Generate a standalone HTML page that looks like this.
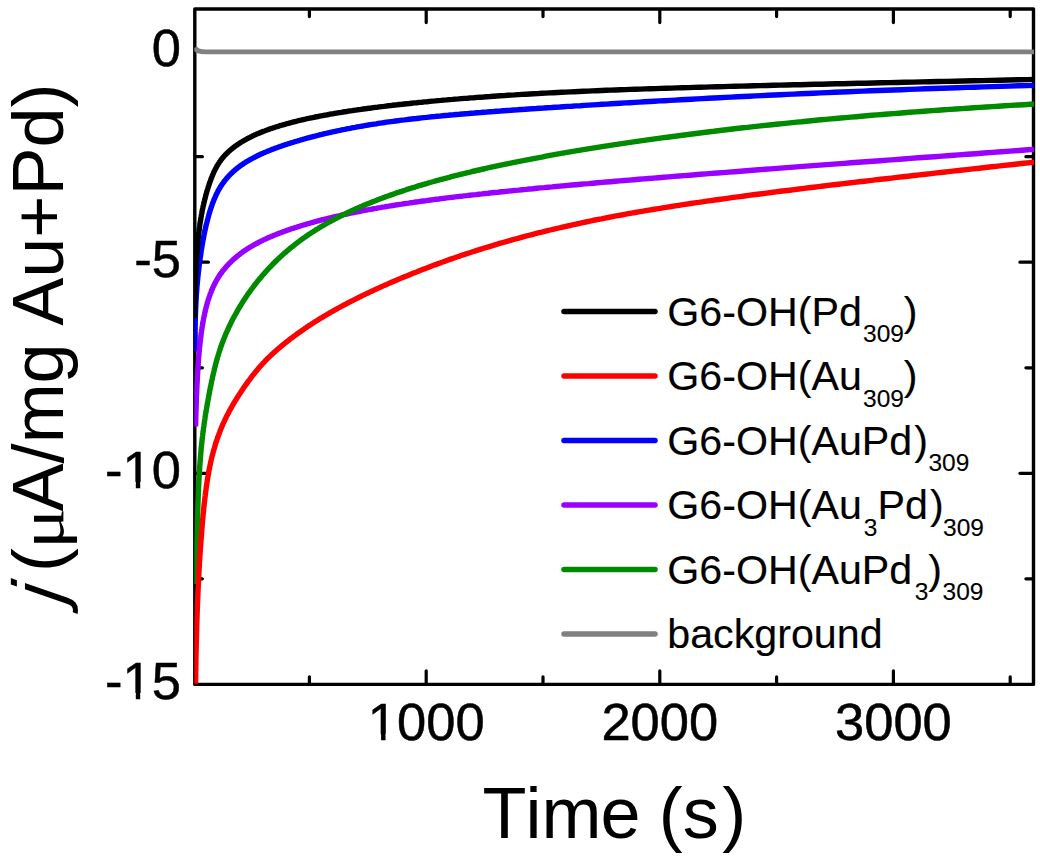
<!DOCTYPE html>
<html><head><meta charset="utf-8"><title>Chronoamperometry</title>
<style>html,body{margin:0;padding:0;background:#fff}body{width:1040px;height:858px;overflow:hidden}</style></head>
<body>
<svg width="1040" height="858" viewBox="0 0 1040 858" style="display:block">
<rect width="1040" height="858" fill="#fff"/>
<rect x="194.8" y="9.0" width="838.7" height="675.4" fill="none" stroke="#000" stroke-width="3.4" stroke-linejoin="round"/>
<path d="M309.4,684.0 v-7.199999999999999 M309.4,9.4 v7.199999999999999 M426.2,684.0 v-13.2 M426.2,9.4 v13.2 M543.0,684.0 v-7.199999999999999 M543.0,9.4 v7.199999999999999 M659.8,684.0 v-13.2 M659.8,9.4 v13.2 M776.6,684.0 v-7.199999999999999 M776.6,9.4 v7.199999999999999 M893.4,684.0 v-13.2 M893.4,9.4 v13.2 M1010.2,684.0 v-7.199999999999999 M1010.2,9.4 v7.199999999999999 M195.20000000000002,156.7 h7.199999999999999 M1033.1,156.7 h-7.199999999999999 M195.20000000000002,262.2 h13.2 M1033.1,262.2 h-13.2 M195.20000000000002,367.8 h7.199999999999999 M1033.1,367.8 h-7.199999999999999 M195.20000000000002,473.3 h13.2 M1033.1,473.3 h-13.2 M195.20000000000002,578.8 h7.199999999999999 M1033.1,578.8 h-7.199999999999999" fill="none" stroke="#000" stroke-width="3.2" stroke-linecap="round"/>
<defs><clipPath id="plotclip"><rect x="194.3" y="9.0" width="839.7" height="676.2"/></clipPath></defs>
<g clip-path="url(#plotclip)">
<path d="M195.3,351.5 L195.3,350.7 L195.3,350.0 L195.2,349.2 L195.2,348.5 L195.2,347.7 L195.2,347.0 L195.2,346.2 L195.2,345.4 L195.2,344.7 L195.1,344.0 L195.1,343.2 L195.1,342.4 L195.1,341.7 L195.1,340.9 L195.1,340.2 L195.1,339.4 L195.1,338.6 L195.1,337.9 L195.1,337.1 L195.1,336.4 L195.1,335.6 L195.1,334.9 L195.1,334.1 L195.1,333.3 L195.1,332.6 L195.1,331.8 L195.1,331.1 L195.1,330.3 L195.1,329.6 L195.1,328.8 L195.1,328.1 L195.1,327.3 L195.1,326.6 L195.2,325.8 L195.2,325.0 L195.2,324.3 L195.2,323.5 L195.2,322.8 L195.2,322.0 L195.2,321.2 L195.3,320.5 L195.3,319.7 L195.3,319.0 L195.3,318.2 L195.3,317.5 L195.4,316.7 L195.4,316.0 L195.4,315.2 L195.4,314.5 L195.5,313.7 L195.5,312.9 L195.5,312.2 L195.5,311.4 L195.6,310.7 L195.6,309.9 L195.6,309.2 L195.7,308.4 L195.7,307.6 L195.7,306.9 L195.8,306.1 L195.8,305.4 L195.8,304.6 L195.9,303.8 L195.9,303.1 L195.9,302.4 L196.0,301.6 L196.0,300.9 L196.1,300.1 L196.1,299.3 L196.2,298.6 L196.2,297.8 L196.2,297.1 L196.3,296.3 L196.3,295.5 L196.4,294.8 L196.4,294.0 L196.5,293.3 L196.5,292.5 L196.6,291.8 L196.7,291.0 L196.7,290.2 L196.8,289.5 L196.8,288.7 L196.9,288.0 L196.9,287.2 L197.0,286.5 L197.1,285.7 L197.1,285.0 L197.2,284.2 L197.3,283.5 L197.3,282.7 L197.4,281.9 L197.5,281.2 L197.5,280.4 L197.6,279.7 L197.7,278.9 L197.8,278.1 L197.8,277.4 L197.9,276.6 L198.0,275.9 L198.1,275.1 L198.2,274.4 L198.2,273.6 L198.3,272.9 L198.4,272.1 L198.5,271.4 L198.6,270.6 L198.7,269.8 L198.8,269.1 L198.8,268.3 L198.9,267.6 L199.0,266.8 L199.1,266.1 L199.2,265.3 L199.3,264.5 L199.4,263.8 L199.5,263.0 L199.6,262.3 L199.7,261.5 L199.8,260.7 L199.9,260.0 L200.0,259.3 L200.1,258.5 L200.2,257.7 L200.3,257.0 L200.4,256.2 L200.6,255.5 L200.7,254.7 L200.8,254.0 L200.9,253.2 L201.0,252.4 L201.1,251.7 L201.2,250.9 L201.3,250.2 L201.5,249.4 L201.6,248.7 L201.7,247.9 L201.8,247.1 L202.0,246.4 L202.1,245.7 L202.2,244.9 L202.3,244.1 L202.5,243.4 L202.6,242.6 L202.7,241.9 L202.9,241.1 L203.0,240.3 L203.1,239.6 L203.3,238.8 L203.4,238.1 L203.6,237.3 L203.7,236.6 L203.9,235.8 L204.0,235.0 L204.2,234.3 L204.3,233.5 L204.5,232.8 L204.6,232.0 L204.8,231.3 L204.9,230.5 L205.1,229.8 L205.3,229.0 L205.4,228.3 L205.6,227.5 L205.8,226.7 L206.0,226.0 L206.1,225.2 L206.3,224.5 L206.5,223.7 L206.7,222.9 L206.9,222.2 L207.1,221.4 L207.3,220.7 L207.5,219.9 L207.7,219.2 L207.9,218.4 L208.1,217.7 L208.3,216.9 L208.5,216.2 L208.7,215.4 L208.9,214.6 L209.1,213.9 L209.3,213.1 L209.6,212.4 L209.8,211.6 L210.0,210.9 L210.3,210.1 L210.5,209.3 L210.8,208.6 L211.0,207.8 L211.3,207.1 L211.5,206.3 L211.8,205.5 L212.1,204.8 L212.3,204.1 L212.6,203.3 L212.9,202.5 L213.2,201.8 L213.5,201.0 L213.8,200.1 L214.2,199.2 L214.6,198.4 L214.9,197.6 L215.3,196.8 L215.6,196.0 L216.0,195.2 L216.3,194.4 L216.7,193.7 L217.0,193.0 L217.4,192.3 L217.7,191.6 L218.1,190.9 L218.5,190.3 L218.8,189.6 L219.2,189.0 L219.5,188.4 L219.9,187.8 L220.2,187.2 L220.6,186.6 L220.9,186.1 L221.3,185.5 L221.6,185.0 L222.0,184.5 L222.3,183.9 L222.7,183.4 L223.1,182.9 L223.4,182.4 L223.8,182.0 L224.1,181.5 L224.5,181.0 L224.8,180.6 L225.2,180.1 L225.5,179.7 L225.9,179.3 L226.2,178.8 L226.6,178.4 L227.0,178.0 L227.3,177.6 L227.7,177.2 L228.0,176.8 L228.4,176.4 L228.7,176.0 L229.1,175.7 L229.4,175.3 L229.8,174.9 L230.1,174.6 L230.5,174.2 L230.9,173.8 L231.2,173.5 L231.6,173.2 L231.9,172.8 L232.3,172.5 L232.6,172.2 L233.0,171.8 L233.3,171.5 L233.7,171.2 L234.0,170.9 L234.4,170.6 L234.8,170.2 L235.1,169.9 L235.5,169.6 L235.8,169.3 L236.2,169.0 L236.5,168.8 L236.9,168.5 L237.2,168.2 L237.6,167.9 L237.9,167.6 L238.3,167.4 L238.6,167.1 L239.0,166.8 L239.4,166.5 L239.7,166.3 L240.1,166.0 L240.4,165.8 L240.8,165.5 L241.1,165.3 L241.5,165.0 L242.0,164.6 L242.6,164.3 L243.1,163.9 L243.7,163.5 L244.3,163.1 L244.8,162.8 L245.4,162.4 L246.0,162.0 L246.6,161.7 L247.2,161.3 L247.8,160.9 L248.4,160.6 L249.1,160.2 L249.7,159.8 L250.3,159.5 L251.0,159.1 L251.6,158.8 L252.3,158.4 L252.9,158.1 L253.6,157.7 L254.3,157.4 L255.0,157.0 L255.7,156.7 L256.4,156.3 L257.1,156.0 L257.8,155.6 L258.5,155.3 L259.2,154.9 L260.0,154.6 L260.7,154.2 L261.5,153.9 L262.3,153.5 L263.0,153.2 L263.8,152.8 L264.6,152.5 L265.4,152.2 L266.2,151.8 L267.0,151.5 L267.9,151.1 L268.7,150.8 L269.5,150.5 L270.4,150.1 L271.3,149.8 L272.1,149.4 L273.0,149.1 L273.9,148.8 L274.8,148.4 L275.7,148.1 L276.6,147.8 L277.6,147.4 L278.5,147.1 L279.5,146.7 L280.4,146.4 L281.4,146.1 L282.4,145.7 L283.4,145.4 L284.4,145.0 L285.4,144.7 L286.4,144.4 L287.5,144.0 L288.5,143.7 L289.6,143.4 L290.7,143.0 L291.8,142.7 L292.9,142.3 L294.0,142.0 L295.1,141.6 L296.2,141.3 L297.4,141.0 L298.5,140.6 L299.7,140.3 L300.9,139.9 L302.1,139.6 L303.3,139.2 L304.5,138.9 L305.8,138.5 L307.0,138.2 L308.3,137.8 L309.6,137.5 L310.9,137.2 L312.2,136.8 L313.5,136.5 L314.9,136.1 L316.2,135.8 L317.6,135.4 L319.0,135.1 L320.4,134.7 L321.8,134.4 L323.2,134.0 L324.6,133.7 L326.1,133.4 L327.6,133.0 L329.1,132.7 L330.6,132.3 L332.1,132.0 L333.7,131.6 L335.2,131.3 L336.8,131.0 L338.4,130.6 L340.0,130.3 L341.6,129.9 L343.3,129.6 L345.0,129.3 L346.6,128.9 L348.3,128.6 L350.1,128.3 L351.8,127.9 L353.6,127.6 L355.3,127.3 L357.1,126.9 L359.0,126.6 L360.8,126.3 L362.7,126.0 L364.5,125.7 L366.4,125.3 L368.4,125.0 L370.3,124.7 L372.3,124.4 L374.3,124.1 L376.3,123.8 L378.3,123.4 L380.3,123.1 L382.4,122.8 L384.5,122.5 L386.6,122.2 L388.8,121.9 L391.0,121.6 L393.1,121.3 L395.4,121.0 L397.6,120.7 L399.9,120.4 L402.2,120.1 L404.5,119.9 L406.8,119.6 L409.2,119.3 L411.6,119.0 L414.0,118.7 L416.4,118.5 L418.9,118.2 L421.4,117.9 L423.9,117.6 L426.5,117.4 L429.1,117.1 L431.7,116.8 L434.3,116.6 L437.0,116.3 L439.7,116.1 L442.4,115.8 L445.2,115.5 L448.0,115.3 L450.8,115.0 L453.6,114.8 L456.5,114.5 L459.4,114.3 L462.4,114.0 L465.4,113.7 L468.4,113.5 L471.4,113.2 L474.5,113.0 L477.6,112.7 L480.8,112.5 L483.9,112.2 L487.2,112.0 L490.4,111.7 L493.7,111.5 L497.0,111.2 L500.4,111.0 L503.8,110.7 L507.2,110.5 L510.7,110.3 L514.2,110.0 L517.7,109.8 L521.3,109.5 L525.0,109.3 L528.6,109.0 L532.3,108.7 L536.1,108.5 L539.9,108.2 L543.7,108.0 L547.6,107.7 L551.5,107.5 L555.5,107.2 L559.5,107.0 L563.5,106.7 L567.6,106.4 L571.8,106.2 L575.9,105.9 L580.2,105.7 L584.4,105.4 L588.8,105.1 L593.1,104.9 L597.6,104.6 L602.0,104.3 L606.5,104.1 L611.1,103.8 L615.7,103.5 L620.4,103.2 L625.1,102.9 L629.9,102.7 L634.7,102.4 L639.6,102.1 L644.5,101.8 L649.5,101.5 L654.5,101.2 L659.6,100.9 L664.8,100.7 L670.0,100.4 L675.3,100.1 L680.6,99.8 L686.0,99.5 L691.4,99.2 L696.9,98.9 L702.5,98.6 L708.1,98.3 L713.8,98.0 L719.5,97.7 L725.3,97.4 L731.2,97.1 L737.2,96.8 L743.2,96.5 L749.2,96.2 L755.4,95.9 L761.6,95.6 L767.9,95.3 L774.2,95.0 L780.6,94.7 L787.1,94.4 L793.7,94.1 L800.3,93.8 L807.0,93.5 L813.8,93.2 L820.6,92.9 L827.5,92.6 L834.5,92.3 L841.6,92.0 L848.8,91.7 L856.0,91.4 L863.3,91.1 L870.7,90.8 L878.2,90.5 L885.8,90.3 L893.4,90.0 L901.1,89.7 L908.9,89.4 L916.8,89.1 L924.8,88.8 L932.9,88.5 L941.1,88.3 L949.3,88.0 L957.7,87.7 L966.1,87.4 L974.6,87.2 L983.2,86.9 L992.0,86.6 L1000.8,86.4 L1009.7,86.1 L1018.7,85.8 L1027.8,85.6 L1037.0,85.3" fill="none" stroke="#0000ff" stroke-width="5.4" stroke-linejoin="round" stroke-linecap="butt"/>
<path d="M194.7,318.0 L194.7,317.3 L194.7,316.6 L194.7,315.9 L194.7,315.2 L194.7,314.5 L194.7,313.8 L194.7,313.1 L194.7,312.4 L194.7,311.6 L194.7,311.0 L194.8,310.2 L194.8,309.5 L194.8,308.8 L194.8,308.1 L194.8,307.4 L194.8,306.7 L194.8,306.0 L194.8,305.3 L194.8,304.6 L194.8,303.9 L194.9,303.2 L194.9,302.5 L194.9,301.8 L194.9,301.1 L194.9,300.4 L194.9,299.7 L194.9,299.0 L195.0,298.3 L195.0,297.5 L195.0,296.9 L195.0,296.1 L195.0,295.4 L195.0,294.7 L195.1,294.0 L195.1,293.3 L195.1,292.6 L195.1,291.9 L195.1,291.2 L195.1,290.5 L195.2,289.8 L195.2,289.1 L195.2,288.4 L195.2,287.7 L195.2,287.0 L195.3,286.3 L195.3,285.6 L195.3,284.9 L195.3,284.2 L195.4,283.4 L195.4,282.8 L195.4,282.0 L195.4,281.4 L195.5,280.6 L195.5,279.9 L195.5,279.2 L195.5,278.5 L195.6,277.8 L195.6,277.1 L195.6,276.4 L195.6,275.7 L195.7,275.0 L195.7,274.3 L195.7,273.6 L195.8,272.9 L195.8,272.2 L195.8,271.5 L195.9,270.8 L195.9,270.1 L195.9,269.4 L196.0,268.7 L196.0,267.9 L196.0,267.3 L196.1,266.5 L196.1,265.8 L196.1,265.1 L196.2,264.4 L196.2,263.7 L196.3,263.0 L196.3,262.3 L196.3,261.6 L196.4,260.9 L196.4,260.2 L196.5,259.5 L196.5,258.8 L196.6,258.1 L196.6,257.4 L196.7,256.7 L196.7,256.0 L196.7,255.3 L196.8,254.6 L196.8,253.8 L196.9,253.1 L196.9,252.4 L197.0,251.7 L197.1,251.0 L197.1,250.3 L197.2,249.6 L197.2,248.9 L197.3,248.2 L197.3,247.5 L197.4,246.8 L197.5,246.1 L197.5,245.4 L197.6,244.7 L197.6,244.0 L197.7,243.3 L197.8,242.6 L197.8,241.9 L197.9,241.2 L198.0,240.4 L198.0,239.8 L198.1,239.0 L198.2,238.3 L198.3,237.6 L198.3,236.9 L198.4,236.2 L198.5,235.5 L198.6,234.8 L198.6,234.1 L198.7,233.4 L198.8,232.7 L198.9,232.0 L199.0,231.3 L199.1,230.6 L199.2,229.9 L199.2,229.2 L199.3,228.5 L199.4,227.8 L199.5,227.1 L199.6,226.3 L199.7,225.7 L199.8,224.9 L199.9,224.2 L200.0,223.5 L200.1,222.8 L200.2,222.1 L200.4,221.4 L200.5,220.7 L200.6,220.0 L200.7,219.3 L200.8,218.6 L200.9,217.9 L201.0,217.2 L201.2,216.5 L201.3,215.8 L201.4,215.1 L201.5,214.4 L201.7,213.7 L201.8,213.0 L201.9,212.3 L202.1,211.6 L202.2,210.8 L202.3,210.2 L202.5,209.4 L202.6,208.7 L202.8,208.0 L202.9,207.3 L203.1,206.6 L203.2,205.9 L203.4,205.2 L203.6,204.5 L203.7,203.8 L203.9,203.1 L204.0,202.4 L204.2,201.7 L204.4,201.0 L204.5,200.3 L204.7,199.6 L204.9,198.9 L205.1,198.2 L205.3,197.5 L205.5,196.7 L205.6,196.1 L205.8,195.3 L206.0,194.6 L206.2,193.9 L206.4,193.2 L206.6,192.5 L206.8,191.8 L207.0,191.1 L207.2,190.4 L207.4,189.7 L207.7,189.0 L207.9,188.3 L208.1,187.6 L208.3,186.9 L208.5,186.2 L208.8,185.5 L209.0,184.8 L209.2,184.1 L209.5,183.3 L209.7,182.7 L210.0,181.9 L210.2,181.2 L210.5,180.5 L210.7,179.8 L211.0,179.1 L211.3,178.4 L211.5,177.7 L211.9,176.9 L212.2,176.1 L212.5,175.3 L212.8,174.5 L213.2,173.8 L213.5,173.0 L213.8,172.3 L214.1,171.6 L214.4,170.9 L214.8,170.3 L215.1,169.6 L215.4,169.0 L215.7,168.4 L216.1,167.8 L216.4,167.2 L216.7,166.6 L217.0,166.0 L217.3,165.5 L217.7,164.9 L218.0,164.4 L218.3,163.9 L218.6,163.4 L219.0,162.9 L219.3,162.4 L219.6,161.9 L219.9,161.4 L220.3,161.0 L220.6,160.5 L220.9,160.1 L221.2,159.7 L221.5,159.2 L221.9,158.8 L222.2,158.4 L222.5,158.0 L222.8,157.6 L223.2,157.3 L223.5,156.9 L223.8,156.5 L224.1,156.1 L224.4,155.8 L224.8,155.4 L225.1,155.1 L225.4,154.7 L225.7,154.4 L226.1,154.1 L226.4,153.8 L226.7,153.4 L227.0,153.1 L227.4,152.8 L227.7,152.5 L228.0,152.2 L228.3,151.9 L228.6,151.6 L229.0,151.3 L229.3,151.0 L229.6,150.7 L229.9,150.5 L230.3,150.2 L230.6,149.9 L230.9,149.6 L231.2,149.4 L231.6,149.1 L231.9,148.8 L232.2,148.6 L232.5,148.3 L232.8,148.1 L233.2,147.8 L233.5,147.6 L233.8,147.3 L234.1,147.1 L234.5,146.8 L234.8,146.6 L235.1,146.3 L235.4,146.1 L235.7,145.9 L236.1,145.6 L236.4,145.4 L236.7,145.2 L237.0,145.0 L237.6,144.6 L238.1,144.2 L238.6,143.9 L239.1,143.5 L239.7,143.2 L240.2,142.8 L240.8,142.5 L241.3,142.1 L241.9,141.8 L242.4,141.5 L243.0,141.1 L243.6,140.8 L244.2,140.4 L244.8,140.1 L245.4,139.8 L246.0,139.4 L246.6,139.1 L247.2,138.7 L247.8,138.4 L248.5,138.1 L249.1,137.7 L249.8,137.4 L250.4,137.1 L251.1,136.7 L251.8,136.4 L252.4,136.1 L253.1,135.8 L253.8,135.4 L254.5,135.1 L255.2,134.8 L256.0,134.5 L256.7,134.1 L257.4,133.8 L258.2,133.5 L258.9,133.2 L259.7,132.9 L260.5,132.5 L261.2,132.2 L262.0,131.9 L262.8,131.6 L263.6,131.3 L264.5,131.0 L265.3,130.7 L266.1,130.3 L267.0,130.0 L267.8,129.7 L268.7,129.4 L269.5,129.1 L270.4,128.8 L271.3,128.5 L272.2,128.2 L273.1,127.9 L274.1,127.6 L275.0,127.3 L275.9,127.0 L276.9,126.7 L277.9,126.4 L278.8,126.1 L279.8,125.7 L280.8,125.4 L281.8,125.2 L282.9,124.9 L283.9,124.6 L284.9,124.3 L286.0,124.0 L287.1,123.7 L288.2,123.4 L289.2,123.1 L290.4,122.8 L291.5,122.5 L292.6,122.2 L293.8,121.9 L294.9,121.6 L296.1,121.3 L297.3,121.0 L298.5,120.7 L299.7,120.4 L300.9,120.2 L302.1,119.9 L303.4,119.6 L304.7,119.3 L305.9,119.0 L307.2,118.7 L308.6,118.4 L309.9,118.2 L311.2,117.9 L312.6,117.6 L314.0,117.3 L315.3,117.0 L316.7,116.7 L318.2,116.5 L319.6,116.2 L321.1,115.9 L322.5,115.6 L324.0,115.3 L325.5,115.1 L327.0,114.8 L328.6,114.5 L330.1,114.2 L331.7,113.9 L333.3,113.7 L334.9,113.4 L336.5,113.1 L338.2,112.8 L339.8,112.6 L341.5,112.3 L343.2,112.0 L344.9,111.7 L346.7,111.5 L348.4,111.2 L350.2,110.9 L352.0,110.7 L353.8,110.4 L355.7,110.1 L357.6,109.8 L359.4,109.6 L361.3,109.3 L363.3,109.0 L365.2,108.8 L367.2,108.5 L369.2,108.2 L371.2,108.0 L373.2,107.7 L375.3,107.4 L377.4,107.2 L379.5,106.9 L381.6,106.6 L383.8,106.4 L386.0,106.1 L388.2,105.8 L390.4,105.6 L392.7,105.3 L395.0,105.0 L397.3,104.8 L399.6,104.5 L402.0,104.3 L404.4,104.0 L406.8,103.7 L409.2,103.5 L411.7,103.2 L414.2,102.9 L416.7,102.7 L419.3,102.4 L421.9,102.2 L424.5,101.9 L427.1,101.7 L429.8,101.4 L432.5,101.1 L435.3,100.9 L438.0,100.6 L440.8,100.4 L443.7,100.1 L446.5,99.9 L449.4,99.6 L452.4,99.4 L455.3,99.1 L458.3,98.9 L461.4,98.6 L464.4,98.4 L467.5,98.2 L470.7,97.9 L473.8,97.7 L477.0,97.4 L480.3,97.2 L483.6,97.0 L486.9,96.7 L490.2,96.5 L493.6,96.2 L497.1,96.0 L500.5,95.8 L504.1,95.6 L507.6,95.3 L511.2,95.1 L514.8,94.9 L518.5,94.6 L522.2,94.4 L526.0,94.2 L529.8,94.0 L533.6,93.8 L537.5,93.6 L541.5,93.3 L545.4,93.1 L549.5,92.9 L553.5,92.7 L557.6,92.5 L561.8,92.3 L566.0,92.1 L570.3,91.9 L574.6,91.7 L578.9,91.5 L583.3,91.3 L587.8,91.1 L592.3,90.9 L596.9,90.7 L601.5,90.5 L606.1,90.3 L610.8,90.1 L615.6,90.0 L620.4,89.8 L625.3,89.6 L630.2,89.4 L635.2,89.3 L640.3,89.1 L645.4,88.9 L650.5,88.7 L655.8,88.6 L661.0,88.4 L666.4,88.2 L671.8,88.1 L677.2,87.9 L682.8,87.7 L688.4,87.6 L694.0,87.4 L699.7,87.2 L705.5,87.1 L711.4,86.9 L717.3,86.8 L723.2,86.6 L729.3,86.4 L735.4,86.3 L741.6,86.1 L747.9,86.0 L754.2,85.8 L760.6,85.6 L767.1,85.5 L773.6,85.3 L780.2,85.1 L786.9,85.0 L793.7,84.8 L800.5,84.7 L807.5,84.5 L814.5,84.3 L821.6,84.2 L828.7,84.0 L836.0,83.8 L843.3,83.7 L850.7,83.5 L858.2,83.3 L865.8,83.2 L873.5,83.0 L881.2,82.8 L889.1,82.6 L897.0,82.5 L905.0,82.3 L913.2,82.1 L921.4,81.9 L929.7,81.7 L938.1,81.5 L946.6,81.4 L955.2,81.2 L963.8,81.0 L972.6,80.8 L981.5,80.6 L990.5,80.4 L999.6,80.2 L1008.8,80.0 L1018.1,79.8 L1027.5,79.6 L1037.0,79.3" fill="none" stroke="#000000" stroke-width="5.4" stroke-linejoin="round" stroke-linecap="butt"/>
<path d="M195.6,426.6 L195.6,425.9 L195.6,425.3 L195.6,424.6 L195.6,423.9 L195.7,423.2 L195.7,422.6 L195.7,421.9 L195.7,421.2 L195.7,420.5 L195.7,419.9 L195.8,419.2 L195.8,418.5 L195.8,417.8 L195.8,417.2 L195.8,416.5 L195.9,415.8 L195.9,415.1 L195.9,414.4 L195.9,413.8 L195.9,413.1 L195.9,412.4 L196.0,411.7 L196.0,411.1 L196.0,410.4 L196.0,409.7 L196.1,409.0 L196.1,408.4 L196.1,407.7 L196.1,407.0 L196.1,406.3 L196.2,405.6 L196.2,405.0 L196.2,404.3 L196.2,403.6 L196.3,402.9 L196.3,402.3 L196.3,401.6 L196.3,400.9 L196.3,400.3 L196.4,399.6 L196.4,398.9 L196.4,398.2 L196.4,397.6 L196.5,396.9 L196.5,396.2 L196.5,395.5 L196.5,394.9 L196.6,394.2 L196.6,393.5 L196.6,392.8 L196.7,392.2 L196.7,391.5 L196.7,390.8 L196.7,390.1 L196.8,389.5 L196.8,388.8 L196.8,388.1 L196.9,387.4 L196.9,386.8 L196.9,386.1 L197.0,385.4 L197.0,384.7 L197.0,384.0 L197.1,383.4 L197.1,382.7 L197.1,382.0 L197.2,381.3 L197.2,380.7 L197.2,380.0 L197.3,379.3 L197.3,378.6 L197.3,378.0 L197.4,377.3 L197.4,376.6 L197.4,375.9 L197.5,375.3 L197.5,374.6 L197.6,373.9 L197.6,373.2 L197.6,372.6 L197.7,371.9 L197.7,371.2 L197.8,370.5 L197.8,369.9 L197.8,369.2 L197.9,368.5 L197.9,367.8 L198.0,367.2 L198.0,366.5 L198.1,365.8 L198.1,365.2 L198.2,364.5 L198.2,363.8 L198.3,363.1 L198.3,362.4 L198.4,361.8 L198.4,361.1 L198.5,360.4 L198.5,359.7 L198.6,359.1 L198.6,358.4 L198.7,357.7 L198.7,357.0 L198.8,356.4 L198.8,355.7 L198.9,355.0 L199.0,354.3 L199.0,353.6 L199.1,353.0 L199.1,352.3 L199.2,351.6 L199.3,350.9 L199.3,350.3 L199.4,349.6 L199.4,348.9 L199.5,348.2 L199.6,347.6 L199.6,346.9 L199.7,346.2 L199.8,345.5 L199.9,344.9 L199.9,344.2 L200.0,343.5 L200.1,342.8 L200.1,342.2 L200.2,341.5 L200.3,340.8 L200.4,340.2 L200.5,339.5 L200.5,338.8 L200.6,338.1 L200.7,337.5 L200.8,336.8 L200.9,336.1 L201.0,335.4 L201.0,334.8 L201.1,334.1 L201.2,333.4 L201.3,332.7 L201.4,332.0 L201.5,331.4 L201.6,330.7 L201.7,330.0 L201.8,329.3 L201.9,328.7 L202.0,328.0 L202.1,327.3 L202.2,326.6 L202.3,326.0 L202.4,325.3 L202.5,324.6 L202.7,323.9 L202.8,323.3 L202.9,322.6 L203.0,321.9 L203.1,321.2 L203.3,320.5 L203.4,319.9 L203.5,319.2 L203.6,318.5 L203.8,317.8 L203.9,317.2 L204.0,316.5 L204.2,315.8 L204.3,315.2 L204.5,314.5 L204.6,313.8 L204.8,313.1 L204.9,312.5 L205.1,311.8 L205.2,311.1 L205.4,310.4 L205.5,309.8 L205.7,309.1 L205.9,308.4 L206.0,307.7 L206.2,307.1 L206.4,306.4 L206.6,305.7 L206.8,305.0 L206.9,304.4 L207.1,303.7 L207.3,303.0 L207.5,302.3 L207.7,301.6 L207.9,301.0 L208.1,300.3 L208.3,299.6 L208.6,298.9 L208.8,298.3 L209.0,297.6 L209.2,296.9 L209.5,296.2 L209.7,295.6 L209.9,294.9 L210.2,294.2 L210.4,293.5 L210.7,292.9 L211.0,292.2 L211.4,291.1 L211.8,290.1 L212.2,289.2 L212.6,288.2 L213.0,287.3 L213.4,286.4 L213.8,285.5 L214.3,284.7 L214.7,283.8 L215.1,283.0 L215.5,282.2 L215.9,281.5 L216.3,280.7 L216.7,280.0 L217.1,279.3 L217.6,278.6 L218.0,277.9 L218.4,277.2 L218.8,276.6 L219.2,276.0 L219.6,275.3 L220.0,274.7 L220.4,274.1 L220.9,273.5 L221.3,273.0 L221.7,272.4 L222.1,271.8 L222.5,271.3 L222.9,270.8 L223.3,270.2 L223.7,269.7 L224.2,269.2 L224.6,268.7 L225.0,268.2 L225.4,267.7 L225.8,267.3 L226.2,266.8 L226.6,266.3 L227.0,265.9 L227.5,265.4 L227.9,265.0 L228.3,264.5 L228.7,264.1 L229.1,263.7 L229.5,263.2 L229.9,262.8 L230.3,262.4 L230.8,262.0 L231.2,261.6 L231.6,261.2 L232.0,260.8 L232.4,260.4 L232.8,260.0 L233.2,259.7 L233.6,259.3 L234.0,258.9 L234.5,258.6 L234.9,258.2 L235.3,257.8 L235.7,257.5 L236.1,257.1 L236.5,256.8 L236.9,256.4 L237.3,256.1 L237.8,255.8 L238.2,255.4 L238.6,255.1 L239.0,254.8 L239.4,254.5 L239.8,254.1 L240.2,253.8 L240.6,253.5 L241.1,253.2 L241.5,252.9 L241.9,252.6 L242.3,252.3 L242.7,252.0 L243.1,251.7 L243.5,251.4 L244.1,251.0 L244.7,250.6 L245.2,250.3 L245.8,249.9 L246.4,249.5 L247.0,249.1 L247.6,248.7 L248.2,248.3 L248.8,248.0 L249.4,247.6 L250.0,247.2 L250.7,246.8 L251.3,246.4 L251.9,246.1 L252.6,245.7 L253.3,245.3 L253.9,244.9 L254.6,244.6 L255.3,244.2 L256.0,243.8 L256.6,243.4 L257.4,243.1 L258.1,242.7 L258.8,242.3 L259.5,241.9 L260.2,241.6 L261.0,241.2 L261.7,240.8 L262.5,240.5 L263.2,240.1 L264.0,239.7 L264.8,239.3 L265.6,239.0 L266.4,238.6 L267.2,238.2 L268.0,237.9 L268.8,237.5 L269.7,237.1 L270.5,236.8 L271.4,236.4 L272.2,236.1 L273.1,235.7 L274.0,235.3 L274.9,235.0 L275.8,234.6 L276.7,234.2 L277.6,233.9 L278.5,233.5 L279.5,233.1 L280.4,232.8 L281.4,232.4 L282.4,232.1 L283.3,231.7 L284.3,231.3 L285.3,231.0 L286.3,230.6 L287.4,230.2 L288.4,229.9 L289.5,229.5 L290.5,229.2 L291.6,228.8 L292.7,228.4 L293.8,228.1 L294.9,227.7 L296.0,227.3 L297.1,227.0 L298.2,226.6 L299.4,226.3 L300.6,225.9 L301.7,225.5 L302.9,225.2 L304.1,224.8 L305.4,224.5 L306.6,224.1 L307.8,223.7 L309.1,223.4 L310.4,223.0 L311.6,222.6 L312.9,222.3 L314.3,221.9 L315.6,221.5 L316.9,221.2 L318.3,220.8 L319.7,220.5 L321.0,220.1 L322.4,219.7 L323.9,219.4 L325.3,219.0 L326.7,218.7 L328.2,218.3 L329.7,217.9 L331.2,217.6 L332.7,217.2 L334.2,216.8 L335.8,216.5 L337.3,216.1 L338.9,215.8 L340.5,215.4 L342.1,215.0 L343.7,214.7 L345.4,214.3 L347.1,214.0 L348.7,213.6 L350.4,213.2 L352.2,212.9 L353.9,212.5 L355.7,212.2 L357.4,211.8 L359.2,211.5 L361.0,211.1 L362.9,210.7 L364.7,210.4 L366.6,210.0 L368.5,209.7 L370.4,209.3 L372.4,209.0 L374.3,208.6 L376.3,208.3 L378.3,207.9 L380.3,207.6 L382.4,207.2 L384.4,206.9 L386.5,206.5 L388.6,206.2 L390.8,205.8 L392.9,205.5 L395.1,205.1 L397.3,204.8 L399.5,204.4 L401.8,204.1 L404.1,203.7 L406.4,203.4 L408.7,203.1 L411.1,202.7 L413.4,202.4 L415.8,202.0 L418.3,201.7 L420.7,201.3 L423.2,201.0 L425.7,200.7 L428.3,200.3 L430.8,200.0 L433.4,199.6 L436.0,199.3 L438.7,199.0 L441.4,198.6 L444.1,198.3 L446.8,197.9 L449.6,197.6 L452.4,197.3 L455.2,196.9 L458.1,196.6 L461.0,196.3 L463.9,195.9 L466.8,195.6 L469.8,195.2 L472.8,194.9 L475.9,194.6 L479.0,194.2 L482.1,193.9 L485.2,193.5 L488.4,193.2 L491.6,192.8 L494.9,192.5 L498.2,192.2 L501.5,191.8 L504.9,191.5 L508.3,191.1 L511.7,190.8 L515.2,190.4 L518.7,190.1 L522.2,189.7 L525.8,189.4 L529.4,189.0 L533.1,188.7 L536.8,188.3 L540.5,187.9 L544.3,187.6 L548.1,187.2 L552.0,186.9 L555.9,186.5 L559.9,186.1 L563.9,185.8 L567.9,185.4 L572.0,185.0 L576.1,184.7 L580.3,184.3 L584.5,183.9 L588.8,183.6 L593.1,183.2 L597.4,182.8 L601.8,182.4 L606.3,182.0 L610.8,181.7 L615.3,181.3 L619.9,180.9 L624.6,180.5 L629.3,180.1 L634.0,179.7 L638.8,179.3 L643.7,178.9 L648.6,178.5 L653.5,178.1 L658.5,177.7 L663.6,177.3 L668.7,176.9 L673.9,176.4 L679.1,176.0 L684.4,175.6 L689.8,175.2 L695.2,174.8 L700.6,174.3 L706.2,173.9 L711.7,173.4 L717.4,173.0 L723.1,172.6 L728.9,172.1 L734.7,171.7 L740.6,171.2 L746.5,170.7 L752.6,170.3 L758.7,169.8 L764.8,169.3 L771.0,168.9 L777.3,168.4 L783.7,167.9 L790.1,167.4 L796.6,166.9 L803.1,166.4 L809.8,165.9 L816.5,165.4 L823.3,164.9 L830.1,164.4 L837.1,163.9 L844.1,163.4 L851.1,162.8 L858.3,162.3 L865.5,161.8 L872.8,161.2 L880.2,160.7 L887.7,160.1 L895.3,159.6 L902.9,159.0 L910.6,158.4 L918.4,157.8 L926.3,157.3 L934.3,156.7 L942.3,156.1 L950.5,155.5 L958.7,154.9 L967.1,154.3 L975.5,153.7 L984.0,153.0 L992.6,152.4 L1001.3,151.8 L1010.1,151.1 L1018.9,150.5 L1027.9,149.8 L1037.0,149.2" fill="none" stroke="#9900ff" stroke-width="5.4" stroke-linejoin="round" stroke-linecap="butt"/>
<path d="M195.8,584.0 L195.8,582.7 L195.8,581.5 L195.8,580.3 L195.9,579.0 L195.9,577.8 L195.9,576.5 L196.0,575.3 L196.0,574.0 L196.0,572.8 L196.1,571.5 L196.1,570.3 L196.1,569.1 L196.2,567.8 L196.2,566.5 L196.2,565.3 L196.3,564.1 L196.3,562.8 L196.3,561.6 L196.4,560.3 L196.4,559.1 L196.4,557.9 L196.5,556.6 L196.5,555.3 L196.5,554.1 L196.6,552.9 L196.6,551.6 L196.6,550.4 L196.6,549.2 L196.7,547.9 L196.7,546.6 L196.7,545.4 L196.8,544.2 L196.8,542.9 L196.8,541.7 L196.9,540.4 L196.9,539.2 L196.9,537.9 L197.0,536.7 L197.0,535.4 L197.0,534.2 L197.1,533.0 L197.1,531.7 L197.1,530.4 L197.2,529.2 L197.2,528.0 L197.2,526.7 L197.3,525.5 L197.3,524.2 L197.3,523.0 L197.4,521.7 L197.4,520.5 L197.5,519.2 L197.5,518.0 L197.5,516.8 L197.6,515.5 L197.6,514.2 L197.6,513.0 L197.7,511.8 L197.7,510.5 L197.8,509.3 L197.8,508.0 L197.9,506.8 L197.9,505.6 L197.9,504.3 L198.0,503.0 L198.0,501.8 L198.1,500.6 L198.1,499.3 L198.2,498.1 L198.2,496.9 L198.3,495.6 L198.3,494.3 L198.4,493.1 L198.4,491.8 L198.5,490.6 L198.5,489.4 L198.6,488.1 L198.6,486.8 L198.7,485.6 L198.8,484.4 L198.8,483.1 L198.9,481.9 L198.9,480.7 L199.0,479.4 L199.1,478.1 L199.1,476.9 L199.2,475.7 L199.3,474.4 L199.4,473.2 L199.4,471.9 L199.5,470.6 L199.6,469.4 L199.7,468.2 L199.7,466.9 L199.8,465.7 L199.9,464.5 L200.0,463.2 L200.1,461.9 L200.2,460.7 L200.3,459.5 L200.4,458.2 L200.5,457.0 L200.6,455.7 L200.7,454.5 L200.8,453.3 L200.9,452.0 L201.0,450.7 L201.1,449.5 L201.2,448.3 L201.3,447.0 L201.5,445.8 L201.6,444.5 L201.7,443.3 L201.9,442.0 L202.0,440.8 L202.1,439.5 L202.3,438.3 L202.4,437.1 L202.6,435.8 L202.7,434.5 L202.9,433.3 L203.0,432.1 L203.2,430.8 L203.4,429.6 L203.5,428.4 L203.7,427.1 L203.9,425.8 L204.0,424.6 L204.2,423.3 L204.4,422.1 L204.6,420.9 L204.8,419.6 L205.0,418.3 L205.1,417.1 L205.3,415.9 L205.5,414.6 L205.7,413.4 L205.9,412.2 L206.2,410.9 L206.4,409.6 L206.6,408.4 L206.8,407.2 L207.0,405.9 L207.2,404.7 L207.4,403.4 L207.7,402.2 L207.9,401.0 L208.1,399.7 L208.3,398.4 L208.6,397.2 L208.8,396.0 L209.0,394.7 L209.3,393.5 L209.5,392.2 L209.7,391.0 L210.0,389.7 L210.2,388.5 L210.5,387.2 L210.7,386.0 L211.0,384.8 L211.2,383.5 L211.5,382.2 L211.7,381.0 L212.0,379.8 L212.3,378.5 L212.5,377.3 L212.8,376.0 L213.1,374.8 L213.4,373.5 L213.7,372.3 L214.0,371.0 L214.2,369.8 L214.5,368.6 L214.9,367.3 L215.2,366.0 L215.5,364.8 L215.8,363.6 L216.1,362.3 L216.5,361.1 L216.8,359.9 L217.2,358.6 L217.5,357.3 L217.9,356.1 L218.3,354.8 L218.7,353.6 L219.0,352.4 L219.5,351.1 L219.9,349.9 L220.3,348.7 L220.7,347.4 L221.1,346.1 L221.6,344.9 L222.0,343.7 L222.5,342.4 L223.0,341.2 L223.4,339.9 L223.9,338.7 L224.4,337.4 L224.9,336.2 L225.9,333.7 L227.0,331.4 L228.0,329.1 L229.0,326.9 L230.0,324.8 L231.0,322.7 L232.0,320.7 L233.0,318.8 L234.0,316.9 L235.1,315.0 L236.1,313.2 L237.1,311.4 L238.1,309.6 L239.1,307.9 L240.1,306.2 L241.1,304.6 L242.1,303.0 L243.1,301.4 L244.2,299.8 L245.2,298.3 L246.2,296.7 L247.2,295.3 L248.2,293.8 L249.2,292.4 L250.2,291.0 L251.2,289.6 L252.3,288.2 L253.3,286.8 L254.3,285.5 L255.3,284.2 L256.3,282.9 L257.3,281.6 L258.3,280.4 L259.3,279.1 L260.4,277.9 L261.4,276.7 L262.4,275.5 L263.4,274.4 L264.4,273.2 L265.4,272.1 L266.4,271.0 L267.4,269.9 L268.4,268.8 L269.5,267.7 L270.5,266.6 L271.5,265.6 L272.5,264.5 L273.5,263.5 L274.5,262.5 L275.5,261.5 L276.5,260.5 L277.6,259.5 L278.6,258.6 L279.6,257.6 L280.6,256.7 L281.6,255.8 L282.6,254.8 L283.6,253.9 L284.6,253.0 L285.7,252.2 L286.7,251.3 L287.7,250.4 L288.7,249.6 L289.7,248.7 L290.7,247.9 L291.7,247.1 L292.7,246.3 L293.7,245.5 L294.8,244.7 L295.8,243.9 L296.8,243.1 L297.8,242.3 L298.8,241.6 L299.8,240.8 L300.8,240.1 L301.8,239.3 L302.9,238.6 L303.9,237.9 L304.9,237.2 L305.8,236.6 L306.6,236.0 L307.5,235.3 L308.4,234.7 L309.3,234.1 L310.3,233.5 L311.2,232.9 L312.1,232.3 L313.1,231.7 L314.0,231.1 L315.0,230.5 L315.9,229.9 L316.9,229.3 L317.9,228.7 L318.8,228.1 L319.8,227.5 L320.8,226.9 L321.8,226.3 L322.8,225.7 L323.9,225.1 L324.9,224.5 L325.9,223.9 L327.0,223.3 L328.0,222.7 L329.1,222.1 L330.2,221.6 L331.2,221.0 L332.3,220.4 L333.4,219.8 L334.5,219.2 L335.6,218.6 L336.8,218.0 L337.9,217.5 L339.0,216.9 L340.2,216.3 L341.3,215.7 L342.5,215.1 L343.7,214.6 L344.8,214.0 L346.0,213.4 L347.2,212.8 L348.5,212.3 L349.7,211.7 L350.9,211.1 L352.1,210.5 L353.4,210.0 L354.6,209.4 L355.9,208.8 L357.2,208.3 L358.5,207.7 L359.8,207.1 L361.1,206.6 L362.4,206.0 L363.7,205.4 L365.1,204.9 L366.4,204.3 L367.8,203.7 L369.2,203.2 L370.5,202.6 L371.9,202.1 L373.3,201.5 L374.8,201.0 L376.2,200.4 L377.6,199.8 L379.1,199.3 L380.5,198.7 L382.0,198.2 L383.5,197.6 L385.0,197.1 L386.5,196.5 L388.0,196.0 L389.5,195.4 L391.1,194.9 L392.6,194.3 L394.2,193.8 L395.8,193.2 L397.4,192.7 L399.0,192.2 L400.6,191.6 L402.2,191.1 L403.8,190.5 L405.5,190.0 L407.2,189.4 L408.8,188.9 L410.5,188.4 L412.2,187.8 L414.0,187.3 L415.7,186.8 L417.4,186.2 L419.2,185.7 L421.0,185.2 L422.8,184.6 L424.6,184.1 L426.4,183.6 L428.2,183.0 L430.0,182.5 L431.9,182.0 L433.8,181.5 L435.7,180.9 L437.6,180.4 L439.5,179.9 L441.4,179.3 L443.4,178.8 L445.3,178.3 L447.3,177.8 L449.3,177.3 L451.3,176.7 L453.3,176.2 L455.4,175.7 L457.4,175.2 L459.5,174.6 L461.6,174.1 L463.7,173.6 L465.8,173.1 L467.9,172.6 L470.1,172.1 L472.2,171.5 L474.4,171.0 L476.6,170.5 L478.9,170.0 L481.1,169.5 L483.3,169.0 L485.6,168.5 L487.9,167.9 L490.2,167.4 L492.6,166.9 L494.9,166.4 L497.3,165.9 L499.6,165.4 L502.0,164.9 L504.5,164.4 L506.9,163.8 L509.4,163.3 L511.8,162.8 L514.3,162.3 L516.8,161.8 L519.4,161.3 L521.9,160.8 L524.5,160.3 L527.1,159.8 L529.7,159.3 L532.3,158.8 L535.0,158.3 L537.7,157.8 L540.4,157.3 L543.1,156.8 L545.8,156.2 L548.6,155.7 L551.4,155.2 L554.2,154.7 L557.0,154.2 L559.9,153.7 L562.7,153.2 L565.6,152.7 L568.5,152.2 L571.5,151.7 L574.4,151.2 L577.4,150.7 L580.4,150.2 L583.5,149.7 L586.5,149.2 L589.6,148.7 L592.7,148.2 L595.8,147.7 L599.0,147.2 L602.1,146.7 L605.3,146.2 L608.6,145.7 L611.8,145.2 L615.1,144.7 L618.4,144.2 L621.7,143.7 L625.1,143.2 L628.5,142.7 L631.9,142.2 L635.3,141.7 L638.8,141.2 L642.2,140.7 L645.8,140.2 L649.3,139.7 L652.9,139.2 L656.5,138.7 L660.1,138.2 L663.7,137.7 L667.4,137.2 L671.1,136.7 L674.9,136.2 L678.6,135.7 L682.4,135.2 L686.3,134.7 L690.1,134.2 L694.0,133.7 L697.9,133.2 L701.9,132.7 L705.8,132.2 L709.8,131.7 L713.9,131.3 L718.0,130.8 L722.1,130.3 L726.2,129.8 L730.4,129.3 L734.6,128.8 L738.8,128.3 L743.1,127.8 L747.4,127.4 L751.7,126.9 L756.1,126.4 L760.5,125.9 L764.9,125.4 L769.4,125.0 L773.9,124.5 L778.4,124.0 L783.0,123.6 L787.6,123.1 L792.3,122.6 L796.9,122.1 L801.7,121.7 L806.4,121.2 L811.2,120.7 L816.0,120.3 L820.9,119.8 L825.8,119.4 L830.8,118.9 L835.7,118.5 L840.8,118.0 L845.8,117.6 L850.9,117.1 L856.1,116.7 L861.3,116.2 L866.5,115.8 L871.7,115.3 L877.0,114.9 L882.4,114.5 L887.8,114.0 L893.2,113.6 L898.7,113.2 L904.2,112.7 L909.7,112.3 L915.3,111.9 L921.0,111.5 L926.7,111.0 L932.4,110.6 L938.2,110.2 L944.0,109.8 L949.9,109.4 L955.8,109.0 L961.8,108.6 L967.8,108.2 L973.8,107.8 L979.9,107.4 L986.1,107.0 L992.3,106.6 L998.5,106.2 L1004.8,105.8 L1011.1,105.4 L1017.5,105.0 L1024.0,104.7 L1030.5,104.3 L1037.0,103.9" fill="none" stroke="#008a00" stroke-width="5.4" stroke-linejoin="round" stroke-linecap="butt"/>
<path d="M195.6,683.8 L195.6,682.5 L195.6,681.3 L195.6,680.0 L195.6,678.7 L195.7,677.4 L195.7,676.1 L195.7,674.9 L195.7,673.6 L195.7,672.3 L195.7,671.0 L195.8,669.7 L195.8,668.4 L195.8,667.2 L195.8,665.9 L195.9,664.6 L195.9,663.4 L195.9,662.1 L195.9,660.8 L195.9,659.5 L196.0,658.2 L196.0,657.0 L196.0,655.7 L196.0,654.4 L196.1,653.1 L196.1,651.8 L196.1,650.5 L196.1,649.3 L196.2,648.0 L196.2,646.7 L196.2,645.5 L196.3,644.1 L196.3,642.9 L196.3,641.6 L196.4,640.3 L196.4,639.1 L196.4,637.8 L196.5,636.5 L196.5,635.2 L196.5,633.9 L196.6,632.6 L196.6,631.4 L196.6,630.1 L196.7,628.8 L196.7,627.5 L196.7,626.2 L196.8,625.0 L196.8,623.7 L196.8,622.4 L196.9,621.2 L196.9,619.9 L197.0,618.6 L197.0,617.3 L197.1,616.0 L197.1,614.8 L197.1,613.5 L197.2,612.2 L197.2,610.9 L197.3,609.6 L197.3,608.3 L197.4,607.1 L197.4,605.8 L197.5,604.5 L197.5,603.3 L197.6,602.0 L197.6,600.7 L197.7,599.4 L197.7,598.1 L197.8,596.9 L197.8,595.6 L197.9,594.3 L197.9,593.0 L198.0,591.7 L198.1,590.4 L198.1,589.2 L198.2,587.9 L198.2,586.6 L198.3,585.4 L198.4,584.1 L198.4,582.8 L198.5,581.5 L198.5,580.2 L198.6,579.0 L198.7,577.7 L198.7,576.4 L198.8,575.1 L198.9,573.8 L198.9,572.5 L199.0,571.3 L199.1,570.0 L199.1,568.8 L199.2,567.5 L199.3,566.1 L199.4,564.9 L199.4,563.6 L199.5,562.3 L199.6,561.1 L199.7,559.8 L199.8,558.5 L199.8,557.2 L199.9,555.9 L200.0,554.7 L200.1,553.4 L200.2,552.1 L200.3,550.8 L200.3,549.5 L200.4,548.2 L200.5,547.0 L200.6,545.7 L200.7,544.4 L200.8,543.2 L200.9,541.9 L201.0,540.6 L201.1,539.3 L201.2,538.0 L201.3,536.8 L201.4,535.5 L201.5,534.2 L201.6,532.9 L201.7,531.6 L201.8,530.3 L201.9,529.1 L202.0,527.8 L202.1,526.6 L202.2,525.3 L202.3,524.0 L202.4,522.7 L202.5,521.4 L202.6,520.1 L202.7,518.9 L202.9,517.6 L203.0,516.3 L203.1,515.0 L203.2,513.7 L203.4,512.4 L203.5,511.2 L203.6,509.9 L203.7,508.7 L203.9,507.4 L204.0,506.1 L204.1,504.8 L204.3,503.5 L204.4,502.2 L204.6,501.0 L204.7,499.7 L204.9,498.4 L205.0,497.1 L205.2,495.8 L205.3,494.6 L205.5,493.3 L205.7,492.0 L205.8,490.8 L206.0,489.5 L206.2,488.2 L206.3,486.9 L206.5,485.6 L206.7,484.3 L206.9,483.1 L207.1,481.8 L207.3,480.5 L207.5,479.2 L207.7,477.9 L207.9,476.7 L208.1,475.4 L208.4,474.1 L208.6,472.8 L208.8,471.5 L209.1,470.2 L209.3,469.0 L209.6,467.7 L209.8,466.5 L210.1,465.2 L210.4,463.9 L210.6,462.6 L210.9,461.3 L211.2,460.0 L211.5,458.8 L211.8,457.5 L212.1,456.2 L212.5,454.9 L212.8,453.6 L213.1,452.3 L213.5,451.1 L213.8,449.8 L214.2,448.6 L214.6,447.3 L215.0,446.0 L215.3,444.7 L215.7,443.4 L216.1,442.1 L216.5,440.9 L217.0,439.6 L217.4,438.3 L217.9,437.0 L218.3,435.7 L218.8,434.5 L219.3,433.2 L219.8,431.9 L220.2,430.7 L220.8,429.4 L221.8,426.8 L222.8,424.4 L223.9,422.1 L224.9,419.9 L225.9,417.8 L226.9,415.7 L228.0,413.7 L229.0,411.7 L230.0,409.8 L231.1,408.0 L232.1,406.2 L233.1,404.4 L234.1,402.7 L235.2,401.0 L236.2,399.3 L237.2,397.6 L238.3,396.0 L239.3,394.4 L240.3,392.9 L241.3,391.3 L242.4,389.8 L243.4,388.3 L244.4,386.8 L245.4,385.3 L246.5,383.8 L247.5,382.4 L248.5,381.0 L249.6,379.6 L250.6,378.2 L251.6,376.9 L252.6,375.5 L253.7,374.2 L254.7,373.0 L255.7,371.7 L256.8,370.4 L257.8,369.2 L258.8,368.0 L259.8,366.8 L260.9,365.7 L261.9,364.5 L262.9,363.4 L264.0,362.3 L265.0,361.2 L266.0,360.2 L267.0,359.1 L268.1,358.1 L269.1,357.1 L270.1,356.1 L271.1,355.1 L272.2,354.2 L273.2,353.2 L274.2,352.3 L275.3,351.4 L276.3,350.4 L277.3,349.5 L278.3,348.7 L279.4,347.8 L280.4,346.9 L281.4,346.1 L282.5,345.2 L283.5,344.4 L284.5,343.5 L285.5,342.7 L286.6,341.9 L287.6,341.1 L288.6,340.3 L289.7,339.5 L290.7,338.7 L291.7,337.9 L292.7,337.2 L293.8,336.4 L294.8,335.6 L295.8,334.9 L296.8,334.1 L297.9,333.4 L298.9,332.7 L299.9,331.9 L301.0,331.2 L302.0,330.5 L302.9,329.9 L303.7,329.3 L304.6,328.7 L305.5,328.0 L306.4,327.4 L307.3,326.8 L308.2,326.2 L309.1,325.6 L310.1,325.0 L311.0,324.4 L311.9,323.8 L312.9,323.2 L313.8,322.6 L314.8,321.9 L315.8,321.3 L316.8,320.7 L317.7,320.1 L318.7,319.5 L319.7,318.9 L320.7,318.2 L321.8,317.6 L322.8,317.0 L323.8,316.4 L324.9,315.8 L325.9,315.1 L327.0,314.5 L328.0,313.9 L329.1,313.3 L330.2,312.6 L331.3,312.0 L332.4,311.4 L333.5,310.8 L334.6,310.1 L335.7,309.5 L336.9,308.9 L338.0,308.2 L339.2,307.6 L340.3,307.0 L341.5,306.3 L342.7,305.7 L343.9,305.1 L345.1,304.4 L346.3,303.8 L347.5,303.1 L348.7,302.5 L350.0,301.9 L351.2,301.2 L352.5,300.6 L353.8,299.9 L355.0,299.3 L356.3,298.6 L357.6,298.0 L358.9,297.3 L360.3,296.7 L361.6,296.0 L362.9,295.4 L364.3,294.7 L365.6,294.1 L367.0,293.4 L368.4,292.8 L369.8,292.1 L371.2,291.4 L372.6,290.8 L374.0,290.1 L375.5,289.4 L376.9,288.8 L378.4,288.1 L379.9,287.4 L381.3,286.8 L382.8,286.1 L384.4,285.4 L385.9,284.8 L387.4,284.1 L388.9,283.4 L390.5,282.7 L392.1,282.0 L393.7,281.4 L395.2,280.7 L396.9,280.0 L398.5,279.3 L400.1,278.6 L401.7,277.9 L403.4,277.3 L405.1,276.6 L406.8,275.9 L408.5,275.2 L410.2,274.5 L411.9,273.8 L413.6,273.1 L415.4,272.4 L417.2,271.7 L418.9,271.0 L420.7,270.3 L422.5,269.6 L424.4,268.9 L426.2,268.2 L428.0,267.5 L429.9,266.7 L431.8,266.0 L433.7,265.3 L435.6,264.6 L437.5,263.9 L439.5,263.2 L441.4,262.5 L443.4,261.8 L445.4,261.1 L447.4,260.3 L449.4,259.6 L451.4,258.9 L453.5,258.2 L455.5,257.5 L457.6,256.8 L459.7,256.1 L461.8,255.3 L464.0,254.6 L466.1,253.9 L468.3,253.2 L470.5,252.5 L472.7,251.8 L474.9,251.1 L477.1,250.3 L479.4,249.6 L481.7,248.9 L483.9,248.2 L486.3,247.5 L488.6,246.8 L490.9,246.1 L493.3,245.4 L495.7,244.6 L498.1,243.9 L500.5,243.2 L502.9,242.5 L505.4,241.8 L507.9,241.1 L510.4,240.4 L512.9,239.7 L515.4,239.0 L518.0,238.3 L520.5,237.6 L523.1,236.9 L525.7,236.2 L528.4,235.5 L531.0,234.8 L533.7,234.1 L536.4,233.4 L539.1,232.7 L541.9,232.1 L544.7,231.4 L547.4,230.7 L550.3,230.0 L553.1,229.3 L555.9,228.7 L558.8,228.0 L561.7,227.3 L564.6,226.6 L567.6,226.0 L570.6,225.3 L573.5,224.6 L576.6,224.0 L579.6,223.3 L582.7,222.6 L585.7,222.0 L588.9,221.3 L592.0,220.7 L595.2,220.0 L598.3,219.4 L601.6,218.8 L604.8,218.1 L608.1,217.5 L611.3,216.8 L614.7,216.2 L618.0,215.6 L621.4,215.0 L624.8,214.3 L628.2,213.7 L631.6,213.1 L635.1,212.5 L638.6,211.9 L642.1,211.3 L645.7,210.7 L649.3,210.1 L652.9,209.5 L656.5,208.9 L660.2,208.3 L663.9,207.7 L667.6,207.1 L671.4,206.5 L675.2,205.9 L679.0,205.3 L682.9,204.7 L686.7,204.1 L690.6,203.5 L694.6,202.9 L698.6,202.4 L702.6,201.8 L706.6,201.2 L710.7,200.6 L714.8,200.0 L718.9,199.5 L723.1,198.9 L727.3,198.3 L731.5,197.7 L735.7,197.1 L740.0,196.6 L744.4,196.0 L748.7,195.4 L753.1,194.8 L757.6,194.2 L762.0,193.7 L766.6,193.1 L771.1,192.5 L775.7,191.9 L780.3,191.3 L784.9,190.7 L789.6,190.2 L794.3,189.6 L799.1,189.0 L803.9,188.4 L808.7,187.8 L813.6,187.2 L818.5,186.6 L823.5,186.0 L828.5,185.4 L833.5,184.8 L838.6,184.2 L843.7,183.6 L848.8,183.0 L854.0,182.4 L859.2,181.8 L864.5,181.2 L869.8,180.6 L875.2,179.9 L880.6,179.3 L886.0,178.7 L891.5,178.1 L897.1,177.4 L902.6,176.8 L908.2,176.2 L913.9,175.5 L919.6,174.9 L925.4,174.2 L931.2,173.6 L937.0,172.9 L942.9,172.3 L948.8,171.6 L954.8,170.9 L960.8,170.3 L966.9,169.6 L973.0,168.9 L979.2,168.2 L985.4,167.5 L991.7,166.8 L998.0,166.1 L1004.4,165.4 L1010.8,164.7 L1017.3,164.0 L1023.8,163.3 L1030.4,162.6 L1037.0,161.9" fill="none" stroke="#ff0000" stroke-width="5.4" stroke-linejoin="round" stroke-linecap="butt"/>
<path d="M195,47.5 C196,51 199,51.8 206,51.8 L1036,51.8" fill="none" stroke="#808080" stroke-width="4.8" stroke-linejoin="round"/>
</g>
<text x="180.9" y="65.6" font-size="52.5" text-anchor="end" font-family="'Liberation Sans', Arial, sans-serif" stroke="#000" stroke-width="0.5">0</text>
<text x="180.9" y="276.6" font-size="52.5" text-anchor="end" font-family="'Liberation Sans', Arial, sans-serif" stroke="#000" stroke-width="0.5">-5</text>
<text x="180.9" y="487.7" font-size="52.5" text-anchor="end" font-family="'Liberation Sans', Arial, sans-serif" stroke="#000" stroke-width="0.5">-10</text>
<rect x="125.15" y="481.93" width="10.66" height="6.98" fill="#fff"/><rect x="140.21" y="481.93" width="10.50" height="6.98" fill="#fff"/>
<text x="180.9" y="698.8" font-size="52.5" text-anchor="end" font-family="'Liberation Sans', Arial, sans-serif" stroke="#000" stroke-width="0.5">-15</text>
<rect x="125.15" y="692.98" width="10.66" height="6.98" fill="#fff"/><rect x="140.21" y="692.98" width="10.50" height="6.98" fill="#fff"/>
<text x="426.2" y="740.0" font-size="52.5" text-anchor="middle" font-family="'Liberation Sans', Arial, sans-serif" stroke="#000" stroke-width="0.5">1000</text>
<rect x="370.44" y="734.23" width="10.66" height="6.98" fill="#fff"/><rect x="385.51" y="734.23" width="10.50" height="6.98" fill="#fff"/>
<text x="659.8" y="740.0" font-size="52.5" text-anchor="middle" font-family="'Liberation Sans', Arial, sans-serif" stroke="#000" stroke-width="0.5">2000</text>
<text x="893.4" y="740.0" font-size="52.5" text-anchor="middle" font-family="'Liberation Sans', Arial, sans-serif" stroke="#000" stroke-width="0.5">3000</text>
<text x="482.2" y="837.8" font-size="72" font-family="'Liberation Sans', Arial, sans-serif"><tspan dx="0.3">T</tspan><tspan dx="1.7">im</tspan><tspan dx="-1.1">e </tspan><tspan dx="-1.7">(s</tspan><tspan dx="3.5">)</tspan></text>
<g transform="translate(63.1,607.2) rotate(-90)"><text x="0" y="0" font-size="72" font-family="'Liberation Sans', Arial, sans-serif" transform="skewX(-19)">j</text></g>
<g transform="translate(63.1,571.9) rotate(-90)"><text x="0" y="0" font-size="72" font-family="'Liberation Sans', Arial, sans-serif">(</text></g>
<g transform="translate(63.1,548.7) rotate(-90)"><text x="0" y="0" font-size="64" font-family="'Liberation Serif', serif" transform="scale(1.18,1)">μ</text></g>
<g transform="translate(63.1,511.4) rotate(-90)"><text x="0" y="0" font-size="72" font-family="'Liberation Sans', Arial, sans-serif">A/mg</text></g>
<g transform="translate(63.1,325.7) rotate(-90)"><text x="0" y="0" font-size="72" font-family="'Liberation Sans', Arial, sans-serif">Au+Pd)</text></g>
<path d="M564.0,311.6 H655.0" stroke="#000000" stroke-width="5.5" stroke-linecap="round" fill="none"/>
<text x="667.3" y="325.8" font-size="41.2" font-family="'Liberation Sans', Arial, sans-serif" stroke="#000" stroke-width="0.15"><tspan dx="0" dy="0" font-size="41.2">G6-OH(Pd</tspan><tspan dx="1.2" dy="16.2" font-size="24.5" stroke-width="0.1">309</tspan><tspan dx="-0.2" dy="-16.2" font-size="41.2">)</tspan></text>
<path d="M564.0,376.1 H655.0" stroke="#ff0000" stroke-width="5.5" stroke-linecap="round" fill="none"/>
<text x="667.3" y="390.3" font-size="41.2" font-family="'Liberation Sans', Arial, sans-serif" stroke="#000" stroke-width="0.15"><tspan dx="0" dy="0" font-size="41.2">G6-OH(Au</tspan><tspan dx="1.2" dy="16.2" font-size="24.5" stroke-width="0.1">309</tspan><tspan dx="-0.2" dy="-16.2" font-size="41.2">)</tspan></text>
<path d="M564.0,440.6 H655.0" stroke="#0000ff" stroke-width="5.5" stroke-linecap="round" fill="none"/>
<text x="667.3" y="454.8" font-size="41.2" font-family="'Liberation Sans', Arial, sans-serif" stroke="#000" stroke-width="0.15"><tspan dx="0" dy="0" font-size="41.2">G6-OH(AuPd</tspan><tspan dx="2" dy="0" font-size="41.2">)</tspan><tspan dx="0.5" dy="16.2" font-size="24.5" stroke-width="0.1">309</tspan></text>
<path d="M564.0,505.1 H655.0" stroke="#9900ff" stroke-width="5.5" stroke-linecap="round" fill="none"/>
<text x="667.3" y="519.3" font-size="41.2" font-family="'Liberation Sans', Arial, sans-serif" stroke="#000" stroke-width="0.15"><tspan dx="0" dy="0" font-size="41.2">G6-OH(Au</tspan><tspan dx="2" dy="16.2" font-size="24.5" stroke-width="0.1">3</tspan><tspan dx="0" dy="-16.2" font-size="41.2">Pd</tspan><tspan dx="2" dy="0" font-size="41.2">)</tspan><tspan dx="-0.5" dy="16.2" font-size="24.5" stroke-width="0.1">309</tspan></text>
<path d="M564.0,569.6 H655.0" stroke="#008a00" stroke-width="5.5" stroke-linecap="round" fill="none"/>
<text x="667.3" y="583.8" font-size="41.2" font-family="'Liberation Sans', Arial, sans-serif" stroke="#000" stroke-width="0.15"><tspan dx="0" dy="0" font-size="41.2">G6-OH(AuPd</tspan><tspan dx="2.5" dy="16.2" font-size="24.5" stroke-width="0.1">3</tspan><tspan dx="0" dy="-16.2" font-size="41.2">)</tspan><tspan dx="0.5" dy="16.2" font-size="24.5" stroke-width="0.1">309</tspan></text>
<path d="M564.0,634.1 H655.0" stroke="#808080" stroke-width="5.5" stroke-linecap="round" fill="none"/>
<text x="667.3" y="648.3" font-size="41.2" font-family="'Liberation Sans', Arial, sans-serif" stroke="#000" stroke-width="0.15"><tspan dx="0" dy="0" font-size="41.2">background</tspan></text>
</svg>
</body></html>
